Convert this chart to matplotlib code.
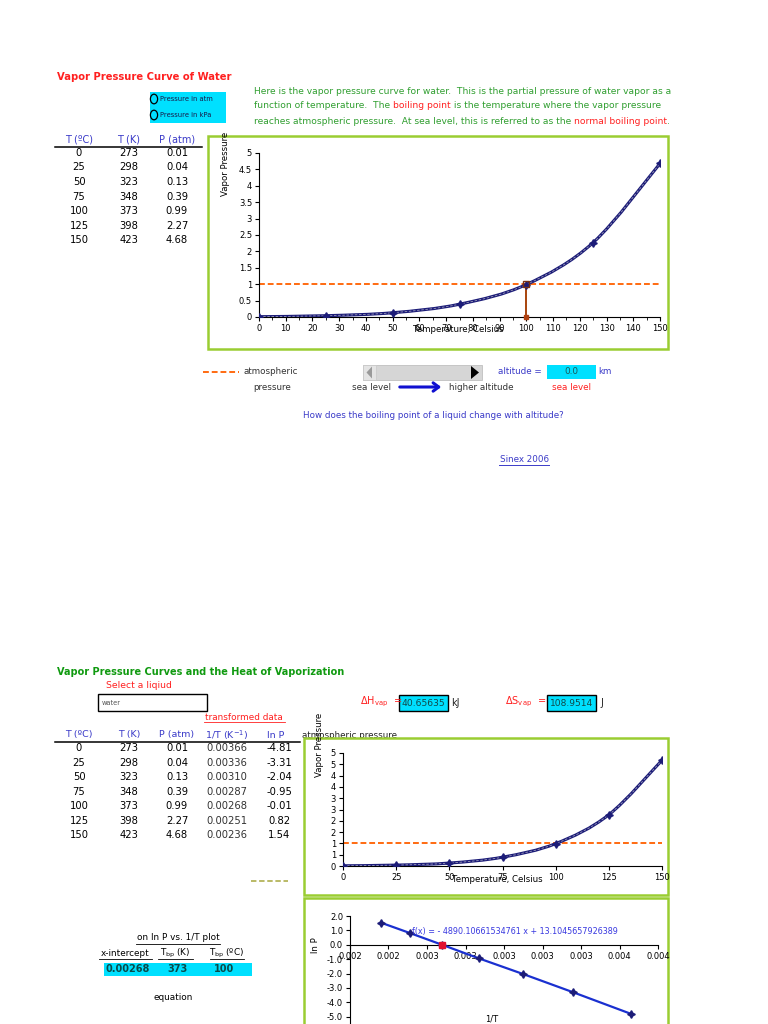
#Vapor pressure worksheet recreated with matplotlib
import numpy as np
import matplotlib
matplotlib.use("Agg")
import matplotlib.pyplot as plt
from matplotlib.patches import Rectangle, Circle, Polygon, PathPatch, FancyArrowPatch
from matplotlib.path import Path

#Data read from the sheet
t_c = [0, 25, 50, 75, 100, 125, 150]
t_k = [273, 298, 323, 348, 373, 398, 423]
p_atm = [0.01, 0.04, 0.13, 0.39, 0.99, 2.27, 4.68]
inv_t = [0.00366, 0.00336, 0.00310, 0.00287, 0.00268, 0.00251, 0.00236]
ln_p = [-4.81, -3.31, -2.04, -0.95, -0.01, 0.82, 1.54]
p_atm_str = ["0.01", "0.04", "0.13", "0.39", "0.99", "2.27", "4.68"]
inv_t_str = ["0.00366", "0.00336", "0.00310", "0.00287", "0.00268", "0.00251", "0.00236"]
ln_p_str = ["-4.81", "-3.31", "-2.04", "-0.95", "-0.01", "0.82", "1.54"]
atm_p = 1.0
bp_c = 100
x_int = 0.00268
x3_ticks = [0.0022, 0.0024, 0.0026, 0.0028, 0.0030, 0.0032, 0.0034, 0.0036, 0.0038]
x3_labels = ["0.002", "0.002", "0.003", "0.003", "0.003", "0.003", "0.003", "0.004", "0.004"]
y2_ticks = [0, 0.5, 1, 1.5, 2, 2.5, 3, 3.5, 4, 4.5, 5]
y2_labels = ["0", "1", "1", "2", "2", "3", "3", "4", "4", "5", "5"]

W, H = 768, 1024
fig = plt.figure(figsize=(W/100, H/100), dpi=100)
fig.patch.set_facecolor("white")

GREEN = "#2f9e2f"
RED = "#ff2020"
BLUE = "#3a3ac8"
FRAME = "#9acd32"
ORANGE = "#ff6a10"
NAVY = "#1c1c78"
CYAN = "#00e0ff"

def fx(x):
	return x/W
def fy(y):
	return 1 - y/H

def txt(x, y, s, size=6.5, color="black", ha="left", **kw):
	return fig.text(fx(x), fy(y), s, fontsize=size, color=color, ha=ha, va="center", **kw)

def rect(x0, y0, x1, y1, fc="none", ec="none", lw=1.0, z=1):
	r = Rectangle((fx(x0), fy(y1)), (x1-x0)/W, (y1-y0)/H, transform=fig.transFigure,
		facecolor=fc, edgecolor=ec, linewidth=lw, zorder=z)
	fig.patches.append(r)
	return r

def hline(x0, x1, y, color="black", lw=1.0, ls="-", z=3):
	fig.add_artist(plt.Line2D([fx(x0), fx(x1)], [fy(y), fy(y)], color=color, lw=lw, ls=ls, zorder=z))

def axes_at(left, top, right, bottom):
	a = fig.add_axes([fx(left), fy(bottom), (right-left)/W, (bottom-top)/H])
	a.set_zorder(2)
	a.patch.set_alpha(0)
	return a

renderer = fig.canvas.get_renderer()
def rich(x, y, parts, size=6.6):
	#piezas de texto de distinto color en una linea
	for s, c in parts:
		t = txt(x, y, s.replace(" ", "\u00a0"), size=size, color=c)
		bb = t.get_window_extent(renderer=renderer)
		x += bb.width

#Curva suavizada tipo hoja de calculo (Bezier por los puntos)
def smooth_path(xs, ys):
	xs = np.asarray(xs, float); ys = np.asarray(ys, float)
	verts = [(xs[0], ys[0])]; codes = [Path.MOVETO]
	n = len(xs)
	for i in range(n-1):
		x0, y0 = (xs[i-1], ys[i-1]) if i > 0 else (xs[i], ys[i])
		x3, y3 = (xs[i+2], ys[i+2]) if i+2 < n else (xs[i+1], ys[i+1])
		c1 = (xs[i] + (xs[i+1]-x0)/6, ys[i] + (ys[i+1]-y0)/6)
		c2 = (xs[i+1] - (x3-xs[i])/6, ys[i+1] - (y3-ys[i])/6)
		verts += [c1, c2, (xs[i+1], ys[i+1])]
		codes += [Path.CURVE4]*3
	return Path(verts, codes)

def style_axes(a):
	for s in ["top", "right"]:
		a.spines[s].set_visible(False)
	a.tick_params(labelsize=6, length=3, width=0.8, pad=2)
	a.tick_params(which="minor", length=2, width=0.6)

def draw_curve(a):
	a.add_patch(PathPatch(smooth_path(t_c, p_atm), facecolor="none", edgecolor=NAVY, lw=2.2, zorder=3))
	a.add_patch(PathPatch(smooth_path(t_c, p_atm), facecolor="none", edgecolor="#9a9ab8", lw=0.6, ls=(0, (3, 2)), zorder=4))
	a.plot(t_c, p_atm, ls="none", marker=(4, 1, 0), ms=5.5, color=NAVY, zorder=5)

# ---------------- Parte superior ----------------
txt(57, 77, "Vapor Pressure Curve of Water", size=7.2, color=RED, weight="bold")

rect(150, 92, 226, 123, fc=CYAN)
for yy, s in [(99, "Pressure in atm"), (115, "Pressure in kPa")]:
	fig.patches.append(Circle((fx(154), fy(yy)), 3.6/W, transform=fig.transFigure, facecolor="none",
		edgecolor="black", lw=0.9, zorder=3))
	txt(160, yy, s, size=4.9, color="#1a1a4a")

rich(254, 91, [("Here is the vapor pressure curve for water.  This is the partial pressure of water vapor as a", GREEN)])
rich(254, 106, [("function of temperature.  The ", GREEN), ("boiling point", RED),
	(" is the temperature where the vapor pressure", GREEN)])
rich(254, 121, [("reaches atmospheric pressure.  At sea level, this is referred to as the ", GREEN),
	("normal boiling point", RED), (".", GREEN)])

for xx, s in [(79, "T (ºC)"), (129, "T (K)"), (177, "P (atm)")]:
	txt(xx, 139, s, size=7, color=BLUE, ha="center")
hline(55, 202, 147, lw=1.1)
rows1 = [153, 167, 182, 197, 211, 226, 240]
for i, yy in enumerate(rows1):
	txt(79, yy, str(t_c[i]), size=7.2, ha="center")
	txt(129, yy, str(t_k[i]), size=7.2, ha="center")
	txt(177, yy, p_atm_str[i], size=7.2, ha="center")

rect(208, 136, 668, 349, fc="white", ec=FRAME, lw=1.8, z=1)
ax1 = axes_at(259, 153, 660, 317)
style_axes(ax1)
ax1.set_xlim(0, 150)
ax1.set_ylim(0, 5)
ax1.set_xticks(range(0, 151, 10))
ax1.set_xticks(range(5, 151, 10), minor=True)
ax1.set_yticks(np.arange(0, 5.01, 0.5))
ax1.set_yticklabels(["0", "0.5", "1", "1.5", "2", "2.5", "3", "3.5", "4", "4.5", "5"])
ax1.axhline(atm_p, color=ORANGE, lw=1.4, ls=(0, (3, 1.5)), zorder=2)
ax1.plot([bp_c, bp_c], [0, atm_p], color="#a8440c", lw=1.4, zorder=4)
ax1.plot([bp_c], [0], marker="s", ms=3.5, color="#b04010", zorder=6, clip_on=False)
ax1.plot([bp_c], [atm_p], marker="s", ms=4.5, mfc="none", mec="#7a3010", zorder=6)
draw_curve(ax1)
fig.text(fx(226), fy(164), "Vapor Pressure", rotation=90, fontsize=6.2, ha="center", va="center", zorder=3)
txt(458, 330, "Temperature, Celsius", size=6.2, ha="center", zorder=3)

#controles
hline(203, 239, 372, color=ORANGE, lw=1.4, ls=(0, (3, 1.5)))
txt(243, 371, "atmospheric", size=6.3, color="#333333")
txt(253, 387, "pressure", size=6.3, color="#333333")
rect(363, 365, 482, 380, fc="#d6d6d6", ec="#c0c0c0", lw=0.6, z=2)
rect(363, 365, 376, 380, fc="#e4e4e4", ec="#c8c8c8", lw=0.5, z=2)
fig.patches.append(Polygon([(fx(372), fy(366.5)), (fx(372), fy(378.5)), (fx(366.5), fy(372.5))],
	closed=True, transform=fig.transFigure, facecolor="#9a9a9a", edgecolor="none", zorder=3))
fig.patches.append(Polygon([(fx(471), fy(366)), (fx(471), fy(379)), (fx(479), fy(372.5))],
	closed=True, transform=fig.transFigure, facecolor="black", edgecolor="none", zorder=3))
txt(352, 387, "sea level", size=6.3, color="#333333")
fig.patches.append(FancyArrowPatch((fx(397), fy(387)), (fx(444), fy(387)), transform=fig.transFigure,
	arrowstyle="->,head_length=4,head_width=3", color="#1010d0", lw=2.2, zorder=3))
txt(449, 387, "higher altitude", size=6.3, color="#333333")
txt(498, 371, "altitude =", size=6.3, color=BLUE)
rect(547, 365, 596, 379, fc=CYAN, z=2)
txt(571, 372, "0.0", size=6.4, color="#1a5a5a", ha="center")
txt(598, 371, "km", size=6.3, color=BLUE)
txt(552, 387, "sea level", size=6.3, color=RED)
txt(433, 415, "How does the boiling point of a liquid change with altitude?", size=6.3, color=BLUE, ha="center")
txt(524, 459, "Sinex 2006", size=6.3, color=BLUE, ha="center")
hline(499, 549, 465, color=BLUE, lw=0.7)

# ---------------- Parte inferior ----------------
txt(57, 672, "Vapor Pressure Curves and the Heat of Vaporization", size=7, color="#109a10", weight="bold")
txt(106, 686, "Select a liqiud", size=6.7, color=RED)
rect(98, 694, 207, 711, fc="white", ec="black", lw=1.0, z=2)
txt(102, 703, "water", size=4.8, color="#555555")
txt(244, 717, "transformed data", size=6.4, color=RED, ha="center")
hline(204, 285, 722, color=RED, lw=0.6)

txt(360, 702, r"$\Delta\mathrm{H}_{\mathrm{vap}}$  =", size=7, color=RED)
rect(399, 695, 448, 711, fc=CYAN, ec="black", lw=1.0, z=2)
txt(423.5, 703, "40.65635", size=6.6, color="#124848", ha="center")
txt(451, 703, "kJ", size=7, color="#222222")
txt(505, 702, r"$\Delta\mathrm{S}_{\mathrm{vap}}$  =", size=7, color=RED)
rect(547, 695, 596, 711, fc=CYAN, ec="black", lw=1.0, z=2)
txt(571.5, 703, "108.9514", size=6.6, color="#124848", ha="center")
txt(600, 703, "J", size=7, color="#222222")

for xx, s in [(79, "T (ºC)"), (129, "T (K)"), (177, "P (atm)"), (227, "1/T (K$^{-1}$)"), (276, "ln P")]:
	txt(xx, 735, s, size=6.8, color=BLUE, ha="center")
hline(55, 300, 742, lw=1.1)
rows2 = [748, 763, 777, 792, 806, 821, 835]
for i, yy in enumerate(rows2):
	txt(79, yy, str(t_c[i]), size=7.2, ha="center")
	txt(129, yy, str(t_k[i]), size=7.2, ha="center")
	txt(177, yy, p_atm_str[i], size=7.2, ha="center")
	txt(227, yy, inv_t_str[i], size=7.2, ha="center", color="#333333")
	txt(279, yy, ln_p_str[i], size=7.2, ha="center")
hline(251, 288, 881, color="#b4b45a", lw=1.3, ls=(0, (3, 1.5)))

#texto escondido detras del grafico
txt(302, 736, "atmospheric pressure", size=6.3, color="#222222", zorder=0.5)

rect(304, 738, 668, 895, fc="white", ec=FRAME, lw=1.8, z=1)
ax2 = axes_at(343, 753, 662, 866)
style_axes(ax2)
ax2.set_xlim(0, 150)
ax2.set_ylim(0, 5)
ax2.set_xticks(t_c)
ax2.set_yticks(y2_ticks)
ax2.set_yticklabels(y2_labels)
ax2.axhline(atm_p, color=ORANGE, lw=1.4, ls=(0, (3, 1.5)), zorder=2)
draw_curve(ax2)
fig.text(fx(320), fy(745), "Vapor Pressure", rotation=90, fontsize=6.2, ha="center", va="center", zorder=3)
txt(497, 880, "Temperature, Celsius", size=6.2, ha="center", zorder=3)

rect(304, 898, 668, 1030, fc="white", ec=FRAME, lw=1.8, z=1)
ax3 = axes_at(350, 916, 658, 1031)
ax3.spines["top"].set_visible(False)
ax3.spines["right"].set_visible(False)
ax3.spines["bottom"].set_position(("data", 0))
ax3.tick_params(labelsize=6, length=3, width=0.8, pad=2)
ax3.set_xlim(0.0022, 0.0038)
ax3.set_ylim(-6, 2)
ax3.set_xticks(x3_ticks)
ax3.set_xticklabels(x3_labels)
ax3.set_yticks(range(-5, 3))
ax3.set_yticklabels(["%.1f" % v for v in range(-5, 3)])
ax3.plot(inv_t, ln_p, color="#1a30d0", lw=1.6, zorder=3)
ax3.plot(inv_t, ln_p, ls="none", marker=(4, 1, 0), ms=5.5, color=NAVY, zorder=4)
ax3.plot([x_int], [0], marker="s", ms=4, color="#e01030", zorder=5)
ax3.text(0.00252, 0.95, "f(x) = - 4890.10661534761 x + 13.1045657926389", fontsize=5.8, color="#3838e0",
	va="center", zorder=6)
fig.text(fx(316), fy(945), "ln P", rotation=90, fontsize=6.2, ha="center", va="center", zorder=3)
txt(492, 1019, "1/T", size=6, ha="center", zorder=3)

#tabla del intercepto
txt(178, 938, "on ln P vs. 1/T plot", size=6.4, ha="center")
hline(136, 220, 944, lw=0.6)
txt(125, 953, "x-intercept", size=6.4, ha="center")
hline(99, 152, 959, lw=0.6)
txt(175, 953, r"T$_{\mathrm{bp}}$ (K)", size=6.4, ha="center")
hline(158, 193, 959, lw=0.6)
txt(227, 953, r"T$_{\mathrm{bp}}$ (ºC)", size=6.4, ha="center")
hline(210, 244, 959, lw=0.6)
rect(104, 963, 252, 976, fc=CYAN)
txt(128, 969.5, "0.00268", size=7, color="#0a4a4a", ha="center", weight="bold")
txt(177, 969.5, "373", size=7, color="#0a4a4a", ha="center", weight="bold")
txt(224, 969.5, "100", size=7, color="#0a4a4a", ha="center", weight="bold")
txt(173, 998, "equation", size=6.4, ha="center")

plt.savefig("out.png", dpi=100)
